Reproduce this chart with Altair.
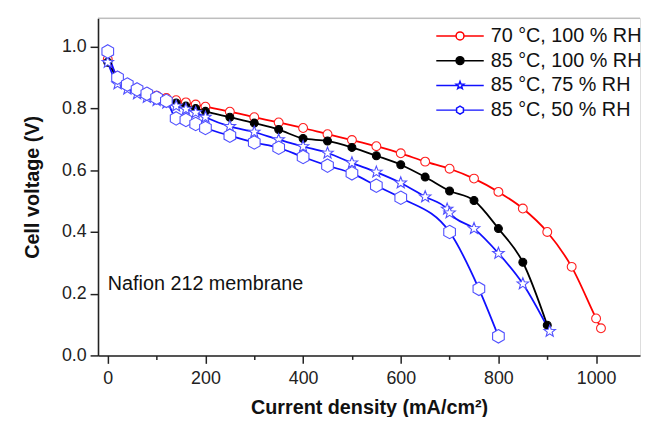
import math
import altair as alt
import pandas as pd

series_names = ["70 °C, 100 % RH", "85 °C, 100 % RH", "85 °C, 75 % RH", "85 °C, 50 % RH"]

red_x = [0, 20, 40, 60, 80, 100, 120, 140, 160, 180, 200, 250, 300, 350, 400, 450, 500, 550, 600, 650, 700, 750, 800, 850, 900, 950, 1000, 1010]
red_y = [0.96, 0.905, 0.88, 0.865, 0.852, 0.842, 0.834, 0.827, 0.820, 0.813, 0.806, 0.790, 0.772, 0.755, 0.737, 0.717, 0.698, 0.678, 0.655, 0.628, 0.605, 0.573, 0.530, 0.476, 0.400, 0.287, 0.120, 0.088]

black_x = [0, 20, 40, 60, 80, 100, 120, 140, 160, 180, 200, 250, 300, 350, 400, 450, 500, 550, 600, 650, 700, 750, 800, 850, 900]
black_y = [0.95, 0.90, 0.875, 0.86, 0.848, 0.838, 0.828, 0.818, 0.808, 0.800, 0.791, 0.772, 0.753, 0.732, 0.703, 0.695, 0.674, 0.647, 0.618, 0.578, 0.533, 0.502, 0.411, 0.302, 0.098]

star_x = [0, 20, 40, 60, 80, 100, 120, 140, 160, 180, 200, 250, 300, 350, 400, 450, 500, 550, 600, 650, 695, 700, 750, 800, 850, 905]
star_y = [0.95, 0.88, 0.863, 0.848, 0.836, 0.826, 0.818, 0.808, 0.798, 0.787, 0.772, 0.742, 0.724, 0.699, 0.677, 0.656, 0.624, 0.594, 0.559, 0.514, 0.474, 0.462, 0.411, 0.331, 0.232, 0.078]

hex_x = [0, 20, 40, 60, 80, 100, 120, 140, 160, 180, 200, 250, 300, 350, 400, 450, 500, 550, 600, 700, 760, 800]
hex_y = [0.985, 0.90, 0.878, 0.862, 0.848, 0.835, 0.825, 0.768, 0.763, 0.750, 0.737, 0.712, 0.690, 0.673, 0.643, 0.615, 0.590, 0.550, 0.511, 0.400, 0.216, 0.062]

annotation = "Nafion 212 membrane"

rows = []
for name, xs, ys in zip(series_names, [red_x, black_x, star_x, hex_x], [red_y, black_y, star_y, hex_y]):
    for a, b in zip(xs, ys):
        rows.append({"series": name, "j": a, "v": b})
df = pd.DataFrame(rows)

# marker shapes
def star_path(r_in=0.42):
    pts = []
    for k in range(10):
        ang = math.radians(-90 + 36 * k)
        r = 1.0 if k % 2 == 0 else r_in
        pts.append((r * math.cos(ang), r * math.sin(ang)))
    return "M" + " L".join(f"{x:.3f},{y:.3f}" for x, y in pts) + " Z"

circle_p = "M1,0 A1,1 0 1,1 -1,0 A1,1 0 1,1 1,0 Z"
star_p = star_path()
hex_p = "M0,-1 L0.866,-0.5 L0.866,0.5 L0,1 L-0.866,0.5 L-0.866,-0.5 Z"

def with_line(p, gap):
    return f"M-6,0 H-{gap} M{gap},0 H6 " + p

line_colors = ["#ff0000", "#000000", "#1010ff", "#1010ff"]
marker_shapes = [circle_p, circle_p, star_p, hex_p]
marker_strokes = ["#ff2020", "#000000", "#5050ff", "#5050ff"]
marker_fills = ["#ffffff", "#000000", "#ffffff", "#ffffff"]
marker_sizes = [80, 64, 150, 185]

font = "Liberation Sans"

xscale = alt.Scale(domain=[-20, 1090], nice=False, zero=False)
yscale = alt.Scale(domain=[0, 1.093], nice=False, zero=False)

xaxis = alt.Axis(
    values=list(range(0, 1100, 100)),
    labelExpr="datum.value % 200 == 0 ? format(datum.value, 'd') : ''",
    tickSize={"condition": {"test": "datum.value % 200 == 0", "value": 8}, "value": 4},
    title="Current density (mA/cm²)",
    grid=False,
    labelFontSize=18, titleFontSize=20, labelFont=font, titleFont=font,
    titleFontWeight="bold", labelColor="#222222", titleColor="#111111",
    domainColor="#222222", tickColor="#222222", domainWidth=1.6, tickWidth=1.5,
    labelPadding=6, titlePadding=11,
)
yaxis = alt.Axis(
    values=[round(i * 0.1, 1) for i in range(0, 11)],
    labelExpr="round(datum.value * 10) % 2 == 0 ? format(datum.value, '.1f') : ''",
    tickSize={"condition": {"test": "round(datum.value * 10) % 2 == 0", "value": 8}, "value": 4},
    title="Cell voltage (V)",
    grid=False,
    labelFontSize=18, titleFontSize=20, labelFont=font, titleFont=font,
    titleFontWeight="bold", labelColor="#222222", titleColor="#111111",
    domainColor="#222222", tickColor="#222222", domainWidth=1.6, tickWidth=1.5,
    labelPadding=4, titlePadding=19,
)

base = alt.Chart(df)

lines = base.mark_line(interpolate="monotone", strokeWidth=1.8).encode(
    x=alt.X("j:Q", scale=xscale, axis=xaxis),
    y=alt.Y("v:Q", scale=yscale, axis=yaxis),
    color=alt.Color("series:N", scale=alt.Scale(domain=series_names, range=line_colors), legend=None),
    detail="series:N",
)

point_layers = []
for name, shp, stk, fil, sz in zip(series_names, marker_shapes, marker_strokes, marker_fills, marker_sizes):
    point_layers.append(
        base.transform_filter(alt.datum.series == name).mark_point(
            shape=shp, size=sz, stroke=stk, fill=fil, filled=False, fillOpacity=1, strokeWidth=1.1, opacity=1
        ).encode(
            x=alt.X("j:Q", scale=xscale),
            y=alt.Y("v:Q", scale=yscale),
        )
    )

leg = alt.Legend(
    orient="none", legendX=356, legendY=8, title=None, padding=0,
    labelFont=font, labelFontSize=20, labelColor="#111111",
    symbolSize=64, symbolStrokeWidth=1.5, labelOffset=21, rowPadding=5,
)

legend_layer = base.mark_point(size=64, strokeWidth=1.5, opacity=1).encode(
    x=alt.X("j:Q", scale=xscale),
    y=alt.Y("v:Q", scale=yscale),
    shape=alt.Shape("series:N", scale=alt.Scale(domain=series_names, range=[with_line(circle_p, 1), with_line(circle_p, 1), with_line(star_p, 0.6), with_line(hex_p, 0.866)]), legend=leg),
    stroke=alt.Stroke("series:N", scale=alt.Scale(domain=series_names, range=line_colors), legend=leg),
    fill=alt.Fill("series:N", scale=alt.Scale(domain=series_names, range=marker_fills), legend=leg),
).transform_filter("false")

text = alt.Chart(pd.DataFrame({"label": [annotation]})).mark_text(
    align="left", baseline="middle", fontSize=20, font=font, color="#111111"
).encode(
    x=alt.datum(0, scale=xscale),
    y=alt.datum(0.23, scale=yscale),
    text="label:N",
)

top_line = alt.Chart(pd.DataFrame({"a": [0]})).mark_rule(color="#aaaaaa", strokeWidth=1).encode(
    y=alt.value(0), x=alt.value(0), x2=alt.value(548)
)

chart = alt.layer(top_line, lines, *point_layers, text, legend_layer).resolve_scale(
    shape="independent", stroke="independent", fill="independent"
).properties(
    width=548, height=341,
    autosize=alt.AutoSizeParams(type="none"),
    padding={"left": 91, "top": 8, "right": 3, "bottom": 60},
).configure_view(stroke=None).configure(background="white")

chart.save("out.html", embed_options={"renderer": "svg", "actions": False})
